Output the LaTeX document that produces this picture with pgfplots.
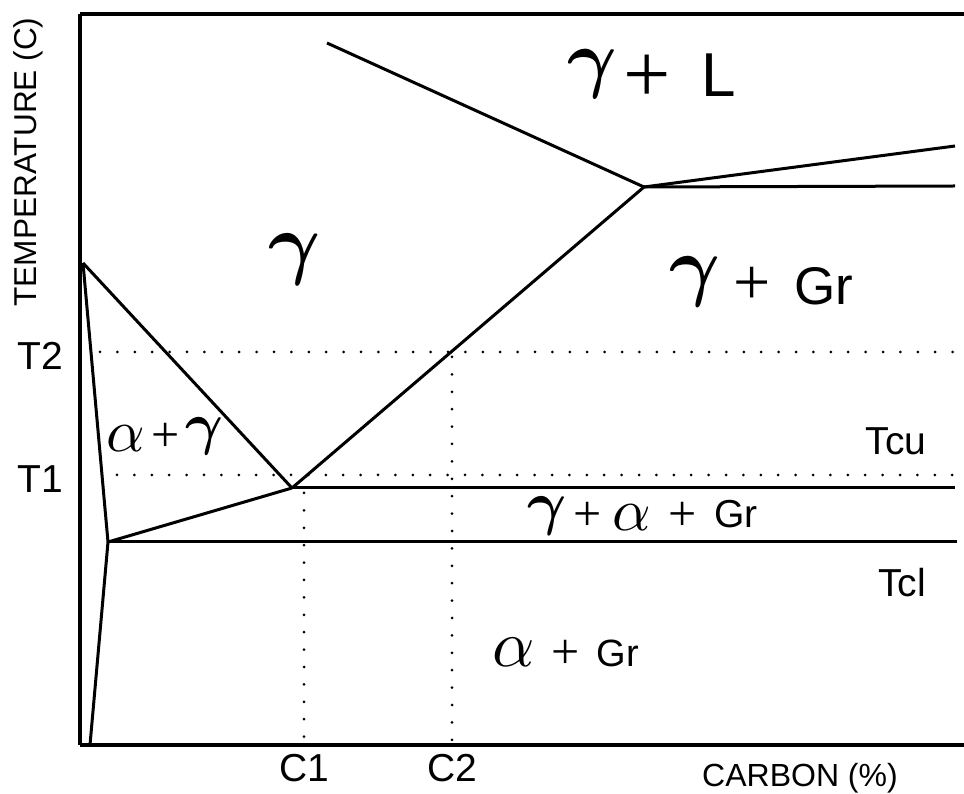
\documentclass[border=0pt]{standalone}
\usepackage{pgfplots}
\pgfplotsset{compat=1.18}
\usepackage{fontspec}
\setmainfont{Liberation Sans}
\newfontfamily\gk{Liberation Serif}
\newcommand{\fs}[1]{\fontsize{#1}{#1}\selectfont}
\tikzset{
  gl/.style={inner sep=0, font=\fs{10}\boldmath},
  al/.style={inner sep=0, font=\fs{10}},
  pl/.style={inner sep=0, font=\gk\fs{#1}},
}
\begin{document}
\begin{tikzpicture}
\begin{axis}[
  x=0.5pt, y=0.5pt,
  xmin=80, xmax=964, ymin=48, ymax=779,
  axis x line*=box, axis y line*=left,
  axis line style={line width=2pt, -},
  xtick={304,452}, xticklabels={C1,C2},
  ytick={441,318}, yticklabels={T2,T1},
  major tick length=0pt,
  ticklabel style={font=\fs{19.5}},
  yticklabel style={xshift=-5pt, yshift=-2pt},
  xticklabel style={yshift=-1pt},
  clip=false,
  phase/.style={line width=1.5pt, black, no markers, line join=round},
  dots/.style={line width=1.5pt, black, no markers, line cap=round, dash pattern=on 0pt off 8.7pt},
]
% phase boundaries
\addplot[phase] coordinates {(83,530) (108,251) (90,48)};
\addplot[phase] coordinates {(83,530) (292,305)};
\addplot[phase] coordinates {(108,251) (292,305)};
\addplot[phase] coordinates {(292,305) (955,305)};
\addplot[phase] coordinates {(108,251) (957,251)};
\addplot[phase] coordinates {(292,305) (644,606)};
\addplot[phase] coordinates {(327,750) (644,606)};
\addplot[phase] coordinates {(644,606) (955,647)};
\addplot[phase] coordinates {(644,606) (955,607)};
% dotted guides
\addplot[dots] coordinates {(100,441) (964,441)};
\addplot[dots] coordinates {(117,318) (964,318)};
\addplot[dots] coordinates {(304,300) (304,48)};
\addplot[dots] coordinates {(452,436) (452,48)};
% labels
\node[gl, scale=4.0] at (axis cs:295,533) {$\gamma$};
% gamma + L
\node[gl, scale=3.8] at (axis cs:592,719) {$\gamma$};
\node[pl=42] at (axis cs:647,714) {+};
\node[inner sep=0, anchor=base] at (axis cs:719,696) {\fs{31}L};
% gamma + Gr
\node[gl, scale=3.9] at (axis cs:695,511) {$\gamma$};
\node[pl=33] at (axis cs:752,507) {+};
\node[inner sep=0, anchor=base] at (axis cs:824,488) {\fs{26.5}Gr};
% gamma + alpha + Gr
\node[gl, scale=3.0] at (axis cs:547,277) {$\gamma$};
\node[pl=25] at (axis cs:588,277) {+};
\node[al, scale=3.0] at (axis cs:632,275) {$\alpha$};
\node[pl=25] at (axis cs:683,277) {+};
\node[inner sep=0, anchor=base] at (axis cs:736,265) {\fs{19.5}Gr};
% alpha + Gr
\node[al, scale=3.3] at (axis cs:514,141) {$\alpha$};
\node[pl=25] at (axis cs:566,139) {+};
\node[inner sep=0, anchor=base] at (axis cs:618,126) {\fs{19}Gr};
% alpha + gamma
\node[al, scale=3.0] at (axis cs:126,354) {$\alpha$};
\node[pl=25] at (axis cs:166,356) {+};
\node[gl, scale=2.9] at (axis cs:204,357) {$\gamma$};
% temperatures
\node at (axis cs:896,352) {\fs{19.5}Tcu};
\node at (axis cs:902,210) {\fs{19.5}Tcl};
% axis titles
\node at (axis cs:800,15) {\fs{16}CARBON (\%)};
\node[rotate=90] at (axis cs:28,631) {\fs{15.8}TEMPERATURE (C)};
\coordinate (BL) at (axis cs:0,0);
\coordinate (TR) at (axis cs:964,793);
\end{axis}
\pgfresetboundingbox
\path (BL) rectangle (TR);
\end{tikzpicture}
\end{document}
